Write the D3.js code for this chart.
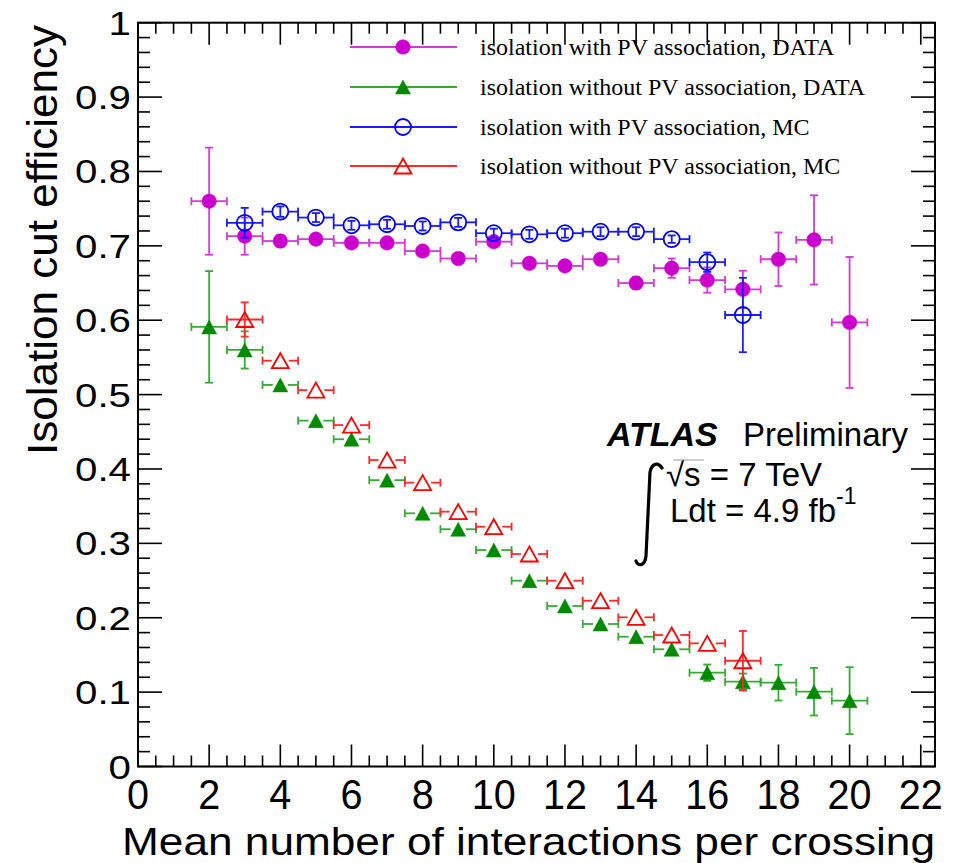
<!DOCTYPE html>
<html>
<head>
<meta charset="utf-8">
<script src="https://cdn.jsdelivr.net/npm/d3@7"></script>
<style>
  body { margin: 0; background: #fff; }
  svg { display: block; }
</style>
</head>
<body>
<svg id="chart" width="963" height="863"></svg>
<script>
// Mean number of interactions per crossing (bin centres)
const muData = [2, 3, 4, 5, 6, 7, 8, 9, 10, 11, 12, 13, 14, 15, 16, 17, 18, 19, 20];
const muMC = [3, 4, 5, 6, 7, 8, 9, 10, 11, 12, 13, 14, 15, 16, 17];
const muHalfWidth = 0.5;

// isolation with PV association, DATA
const pvData = [0.760, 0.713, 0.7065, 0.709, 0.704, 0.704, 0.693, 0.683, 0.7056, 0.6765,
                0.673, 0.682, 0.650, 0.670, 0.654, 0.6415, 0.682, 0.708, 0.597];
const pvDataErr = [0.072, 0.025, 0.008, 0.005, 0.005, 0.005, 0.005, 0.005, 0.006, 0.006,
                   0.006, 0.007, 0.008, 0.013, 0.017, 0.025, 0.036, 0.06, 0.088];

// isolation without PV association, DATA
const noPvData = [0.591, 0.560, 0.513, 0.465, 0.440, 0.385, 0.3404, 0.319, 0.291, 0.2498,
                  0.2158, 0.1916, 0.1745, 0.1576, 0.1261, 0.114, 0.1127, 0.1006, 0.0885];
const noPvDataErr = [0.075, 0.025, 0.007, 0.004, 0.004, 0.004, 0.004, 0.004, 0.004, 0.004,
                     0.004, 0.004, 0.005, 0.006, 0.011, 0.011, 0.024, 0.032, 0.045];

// isolation with PV association, MC
const pvMC = [0.731, 0.746, 0.738, 0.7276, 0.729, 0.7267, 0.7316, 0.717, 0.7155, 0.717,
              0.719, 0.719, 0.709, 0.678, 0.607];
const pvMCErr = [0.02, 0.007, 0.006, 0.006, 0.006, 0.006, 0.006, 0.006, 0.006, 0.006,
                 0.006, 0.006, 0.005, 0.013, 0.05];

// isolation without PV association, MC
const noPvMC = [0.601, 0.5456, 0.506, 0.459, 0.412, 0.3816, 0.3426, 0.3224, 0.2857, 0.2498,
                0.2229, 0.2006, 0.1768, 0.1656, 0.1422];
const noPvMCErr = [0.023, 0.003, 0.003, 0.003, 0.003, 0.003, 0.003, 0.003, 0.003, 0.003,
                   0.003, 0.003, 0.004, 0.006, 0.04];

// Axis tick labels
const xTickLabels = ["0", "2", "4", "6", "8", "10", "12", "14", "16", "18", "20", "22"];
const yTickLabels = ["0", "0.1", "0.2", "0.3", "0.4", "0.5", "0.6", "0.7", "0.8", "0.9", "1"];

const legendLabels = [
  "isolation with PV association, DATA",
  "isolation without PV association, DATA",
  "isolation with PV association, MC",
  "isolation without PV association, MC"
];

const svg = d3.select("#chart");
svg.append("rect").attr("width", 963).attr("height", 863).attr("fill", "#fff");

const x = d3.scaleLinear().domain([0, 22.4]).range([138, 935]);
const y = d3.scaleLinear().domain([0, 1]).range([766.5, 22.7]);

const sans = "'Liberation Sans', Arial, Helvetica, sans-serif";
const serif = "'Liberation Serif', 'Times New Roman', Times, serif";

// ---------- frame and ticks ----------
const axes = svg.append("g").attr("stroke", "#000").attr("fill", "none");
const [x0, x1] = x.range();
const [yb, yt] = y.range();

const xMajor = d3.range(0, 22.001, 2);
const xMinor = d3.range(0, 22.41, 0.5).filter(v => Math.abs(v / 2 - Math.round(v / 2)) > 1e-6);
const yMajor = d3.range(0, 1.0001, 0.1);
const yMinor = d3.range(0, 1.0001, 0.02).filter(v => Math.abs(v * 10 - Math.round(v * 10)) > 1e-6);

function xTicks(vals, len) {
  axes.selectAll(null).data(vals).join("line")
    .attr("x1", d => x(d)).attr("x2", d => x(d))
    .attr("y1", yb).attr("y2", yb - len).attr("stroke-width", 1.6);
  axes.selectAll(null).data(vals).join("line")
    .attr("x1", d => x(d)).attr("x2", d => x(d))
    .attr("y1", yt).attr("y2", yt + len).attr("stroke-width", 1.6);
}
function yTicks(vals, len) {
  axes.selectAll(null).data(vals).join("line")
    .attr("y1", d => y(d)).attr("y2", d => y(d))
    .attr("x1", x0).attr("x2", x0 + len).attr("stroke-width", 1.6);
  axes.selectAll(null).data(vals).join("line")
    .attr("y1", d => y(d)).attr("y2", d => y(d))
    .attr("x1", x1).attr("x2", x1 - len).attr("stroke-width", 1.6);
}
xTicks(xMajor, 22);
xTicks(xMinor, 11);
yTicks(yMajor, 24);
yTicks(yMinor, 12);

axes.append("rect")
  .attr("x", x0).attr("y", yt)
  .attr("width", x1 - x0).attr("height", yb - yt)
  .attr("stroke-width", 2);

// tick labels
svg.append("g").selectAll("text").data(xMajor).join("text")
  .attr("transform", d => `translate(${x(d)},809) scale(0.92,1)`)
  .attr("text-anchor", "middle")
  .attr("font-family", sans).attr("font-size", 43)
  .text((d, i) => xTickLabels[i]);

svg.append("g").selectAll("text").data(yMajor).join("text")
  .attr("transform", d => `translate(131,${y(d) + 12}) scale(1.22,1)`)
  .attr("text-anchor", "end")
  .attr("font-family", sans).attr("font-size", 33)
  .text((d, i) => yTickLabels[i]);

// axis titles
svg.append("text")
  .attr("x", 122).attr("y", 855)
  .attr("font-family", sans).attr("font-size", 39)
  .attr("textLength", 813).attr("lengthAdjust", "spacingAndGlyphs")
  .text("Mean number of interactions per crossing");

svg.append("text")
  .attr("transform", "translate(57,455) rotate(-90)")
  .attr("font-family", sans).attr("font-size", 42)
  .attr("textLength", 430).attr("lengthAdjust", "spacingAndGlyphs")
  .text("Isolation cut efficiency");

// ---------- marker shapes ----------
function triPath(w, h) {
  return `M0,${-h / 2}L${w / 2},${h / 2}L${-w / 2},${h / 2}Z`;
}
const styles = [
  { color: "#cc00cc", bar: "#d43ad4", shape: "circle", filled: true, r: 7.3 },
  { color: "#008a00", bar: "#35ab35", shape: "triangle", filled: true, w: 15, h: 14 },
  { color: "#0000ff", bar: "#1a1aff", shape: "circle", filled: false, r: 8 },
  { color: "#ff0000", bar: "#ff2a2a", shape: "triangle", filled: false, w: 17, h: 15 }
];

function drawMarker(g, st, cx, cy) {
  if (st.shape === "circle") {
    g.append("circle").attr("cx", cx).attr("cy", cy).attr("r", st.r)
      .attr("fill", st.filled ? st.color : "none")
      .attr("stroke", st.color).attr("stroke-width", st.filled ? 0.5 : 1.8);
  } else {
    g.append("path").attr("d", triPath(st.w, st.h))
      .attr("transform", `translate(${cx},${cy})`)
      .attr("fill", st.filled ? st.color : "none")
      .attr("stroke", st.color).attr("stroke-width", st.filled ? 0.5 : 1.8)
      .attr("stroke-linejoin", "miter");
  }
}

// ---------- data series with error bars ----------
const series = [
  { xs: muData, ys: pvData, es: pvDataErr, st: styles[0] },
  { xs: muData, ys: noPvData, es: noPvDataErr, st: styles[1] },
  { xs: muMC, ys: pvMC, es: pvMCErr, st: styles[2] },
  { xs: muMC, ys: noPvMC, es: noPvMCErr, st: styles[3] }
];

const cap = 4;
series.forEach(s => {
  const g = svg.append("g");
  const isCircle = s.st.shape === "circle";
  const half = isCircle ? s.st.r : s.st.w / 2;
  const halfH = isCircle ? s.st.r : s.st.h / 2;
  s.xs.forEach((mv, i) => {
    const cx = x(mv), cy = y(s.ys[i]);
    const xl = x(mv - muHalfWidth), xr = x(mv + muHalfWidth);
    const yTop = y(s.ys[i] + s.es[i]), yBot = y(s.ys[i] - s.es[i]);
    const bars = g.append("g").attr("stroke", s.st.bar).attr("stroke-width", 1.8).attr("fill", "none");
    const bigErr = (yBot - yTop) / 2 > halfH;
    if (bigErr) {
      bars.append("line").attr("x1", xl).attr("x2", xr).attr("y1", cy).attr("y2", cy);
    } else {
      bars.append("line").attr("x1", xl).attr("x2", cx - half).attr("y1", cy).attr("y2", cy);
      bars.append("line").attr("x1", cx + half).attr("x2", xr).attr("y1", cy).attr("y2", cy);
    }
    bars.append("line").attr("x1", xl).attr("x2", xl).attr("y1", cy - cap).attr("y2", cy + cap);
    bars.append("line").attr("x1", xr).attr("x2", xr).attr("y1", cy - cap).attr("y2", cy + cap);
    // triangles hide their vertical bar when it stays inside the marker
    if (isCircle || bigErr) {
      bars.append("line").attr("x1", cx).attr("x2", cx).attr("y1", yTop).attr("y2", yBot);
      bars.append("line").attr("x1", cx - cap).attr("x2", cx + cap).attr("y1", yTop).attr("y2", yTop);
      bars.append("line").attr("x1", cx - cap).attr("x2", cx + cap).attr("y1", yBot).attr("y2", yBot);
    }
    drawMarker(g, s.st, cx, cy);
  });
});

// ---------- legend ----------
const legend = svg.append("g");
const legendRowsY = [47, 87, 127, 166];
legendLabels.forEach((lab, i) => {
  const st = styles[i];
  const ly = legendRowsY[i];
  legend.append("line").attr("x1", 350).attr("x2", 457).attr("y1", ly).attr("y2", ly)
    .attr("stroke", st.bar).attr("stroke-width", 1.8);
  drawMarker(legend, st, 403, ly);
  legend.append("text").attr("x", 480).attr("y", ly + 8)
    .attr("font-family", serif).attr("font-size", 24).attr("fill", "#000")
    .text(lab);
});

// ---------- ATLAS label ----------
const lab = svg.append("g").attr("font-family", sans).attr("fill", "#000");
lab.append("text").attr("x", 607).attr("y", 446)
  .attr("font-size", 34).attr("font-weight", "bold").attr("font-style", "italic")
  .text("ATLAS");
lab.append("text").attr("x", 743).attr("y", 446)
  .attr("font-size", 33).text("Preliminary");

lab.append("text").attr("x", 666).attr("y", 486).attr("font-size", 33)
  .text("\u221As = 7 TeV");
lab.append("line").attr("x1", 673).attr("x2", 704).attr("y1", 460).attr("y2", 460)
  .attr("stroke", "#999").attr("stroke-width", 1);

const ldt = lab.append("text").attr("x", 670).attr("y", 522).attr("font-size", 33);
ldt.append("tspan").text("Ldt = 4.9 fb");
ldt.append("tspan").attr("dy", -18).attr("font-size", 23).text("-1");

// integral sign
lab.append("path")
  .attr("d", "M662,468 C658,462 652,463 650,472 L646,556 C645,566 638,567 636,561")
  .attr("fill", "none").attr("stroke", "#000").attr("stroke-width", 3.2)
  .attr("stroke-linecap", "round");
</script>
</body>
</html>
